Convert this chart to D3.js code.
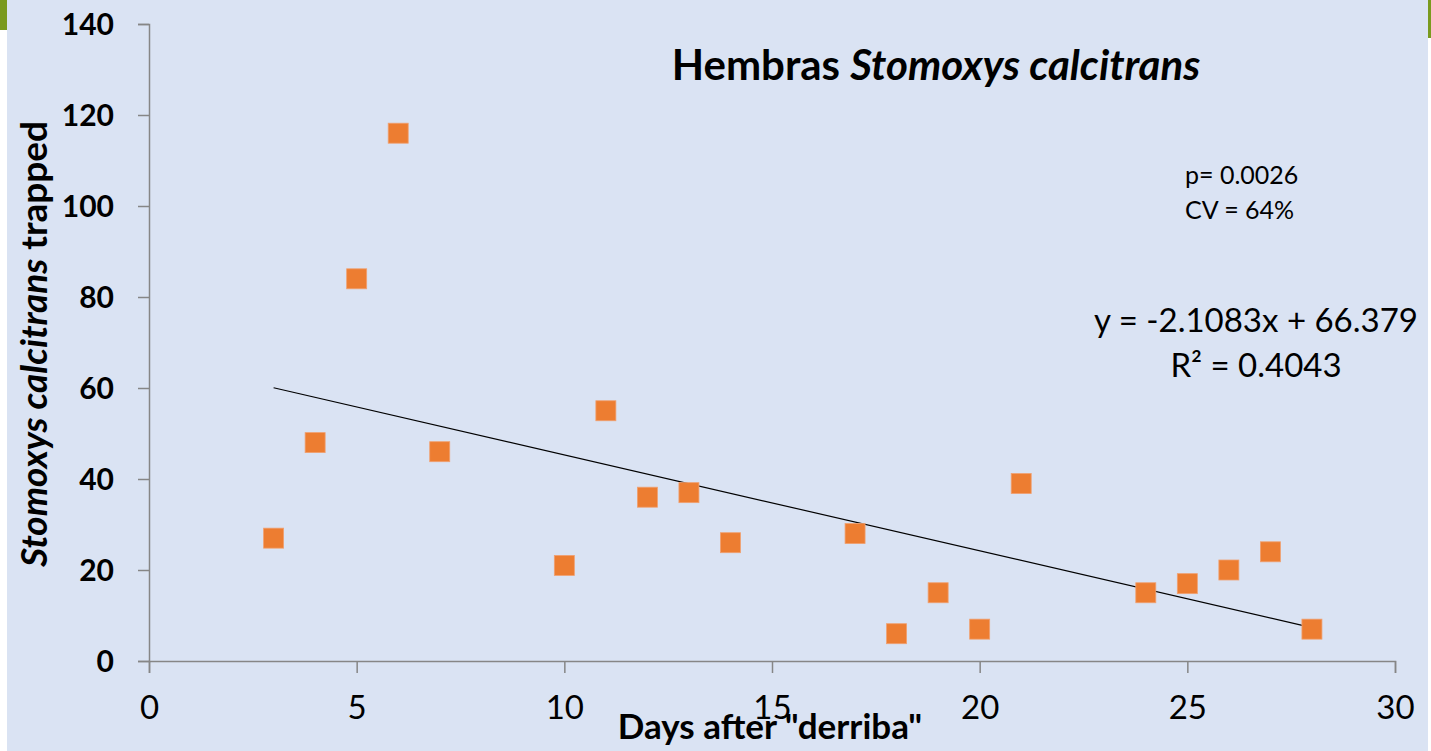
<!DOCTYPE html>
<html>
<head>
<meta charset="utf-8">
<script src="https://cdn.jsdelivr.net/npm/d3@7"></script>
<style>
  body { margin: 0; background: #fff; }
  svg { display: block; font-family: Lato, "Open Sans", sans-serif; }
</style>
</head>
<body>
<svg id="chart" width="1431" height="751"></svg>
<script>
// days after "derriba" and females trapped
var days = [3, 4, 5, 6, 7, 10, 11, 12, 13, 14, 17, 18, 19, 20, 21, 24, 25, 26, 27, 28];
var trapped = [27, 48, 84, 116, 46, 21, 55, 36, 37, 26, 28, 6, 15, 7, 39, 15, 17, 20, 24, 7];
var xTicks = [0, 5, 10, 15, 20, 25, 30];
var yTicks = [0, 20, 40, 60, 80, 100, 120, 140];
var slope = -2.1083, intercept = 66.379;

var svg = d3.select("#chart");

// slide background + corner decorations
svg.append("rect").attr("x", 7).attr("y", 0).attr("width", 1421).attr("height", 751).attr("fill", "#dae3f3");
svg.append("rect").attr("x", 0).attr("y", 0).attr("width", 7).attr("height", 30).attr("fill", "#7a9a1e");
svg.append("rect").attr("x", 1428).attr("y", 0).attr("width", 3).attr("height", 38).attr("fill", "#7a9a1e");

var x = d3.scaleLinear().domain([0, 30]).range([149, 1395]);
var y = d3.scaleLinear().domain([0, 140]).range([661, 24]);

// axes
var xAxis = svg.append("g").attr("transform", "translate(0,661)")
    .call(d3.axisBottom(x).tickValues(xTicks).tickSize(12).tickPadding(23).tickFormat(d3.format("d")));
var yAxis = svg.append("g").attr("transform", "translate(149,0)")
    .call(d3.axisLeft(y).tickValues(yTicks).tickSize(11).tickPadding(24).tickFormat(d3.format("d")));

[xAxis, yAxis].forEach(function(a) {
  a.select(".domain").attr("stroke", "#868686").attr("stroke-width", 1.5);
  a.selectAll(".tick line").attr("stroke", "#868686").attr("stroke-width", 1.5);
  a.selectAll(".tick text").attr("fill", "#000").style("font-family", "Lato, sans-serif");
});
xAxis.selectAll(".tick text").style("font-size", "33px");
yAxis.selectAll(".tick text").style("font-size", "30px").style("font-weight", "bold").attr("dy", "0.36em");

// trend line
svg.append("line")
    .attr("x1", x(3)).attr("y1", y(slope * 3 + intercept))
    .attr("x2", x(28)).attr("y2", y(slope * 28 + intercept))
    .attr("stroke", "#000").attr("stroke-width", 1.2);

// markers
var pts = days.map(function(d, i) { return { day: d, n: trapped[i] }; });
svg.selectAll("rect.pt")
    .data(pts)
  .enter().append("rect")
    .attr("class", "pt")
    .attr("x", function(d) { return x(d.day) - 10; })
    .attr("y", function(d) { return y(d.n) - 10; })
    .attr("width", 20).attr("height", 20)
    .attr("fill", "#ed7d31")
    .attr("stroke", "#f0a070").attr("stroke-width", 0.8);

// title
var title = svg.append("text").attr("x", 936).attr("y", 80).attr("text-anchor", "middle")
    .style("font-size", "42px").style("font-weight", "bold");
title.append("tspan").text("Hembras ");
title.append("tspan").style("font-style", "italic").text("Stomoxys calcitrans");

// axis titles
svg.append("text").attr("x", 770).attr("y", 739).attr("text-anchor", "middle")
    .style("font-size", "35px").style("font-weight", "bold")
    .text("Days after \"derriba\"");

var yl = svg.append("text").attr("transform", "translate(47,344) rotate(-90)").attr("text-anchor", "middle")
    .style("font-size", "37px").style("font-weight", "bold");
yl.append("tspan").style("font-style", "italic").text("Stomoxys calcitrans");
yl.append("tspan").text(" trapped");

// stats
svg.append("text").attr("x", 1185).attr("y", 184).style("font-size", "25px").text("p= 0.0026");
svg.append("text").attr("x", 1185).attr("y", 219).style("font-size", "25px").text("CV = 64%");

svg.append("text").attr("x", 1256).attr("y", 332).attr("text-anchor", "middle")
    .style("font-size", "33px").text("y = -2.1083x + 66.379");
svg.append("text").attr("x", 1256).attr("y", 377).attr("text-anchor", "middle")
    .style("font-size", "33px").text("R² = 0.4043");
</script>
</body>
</html>
